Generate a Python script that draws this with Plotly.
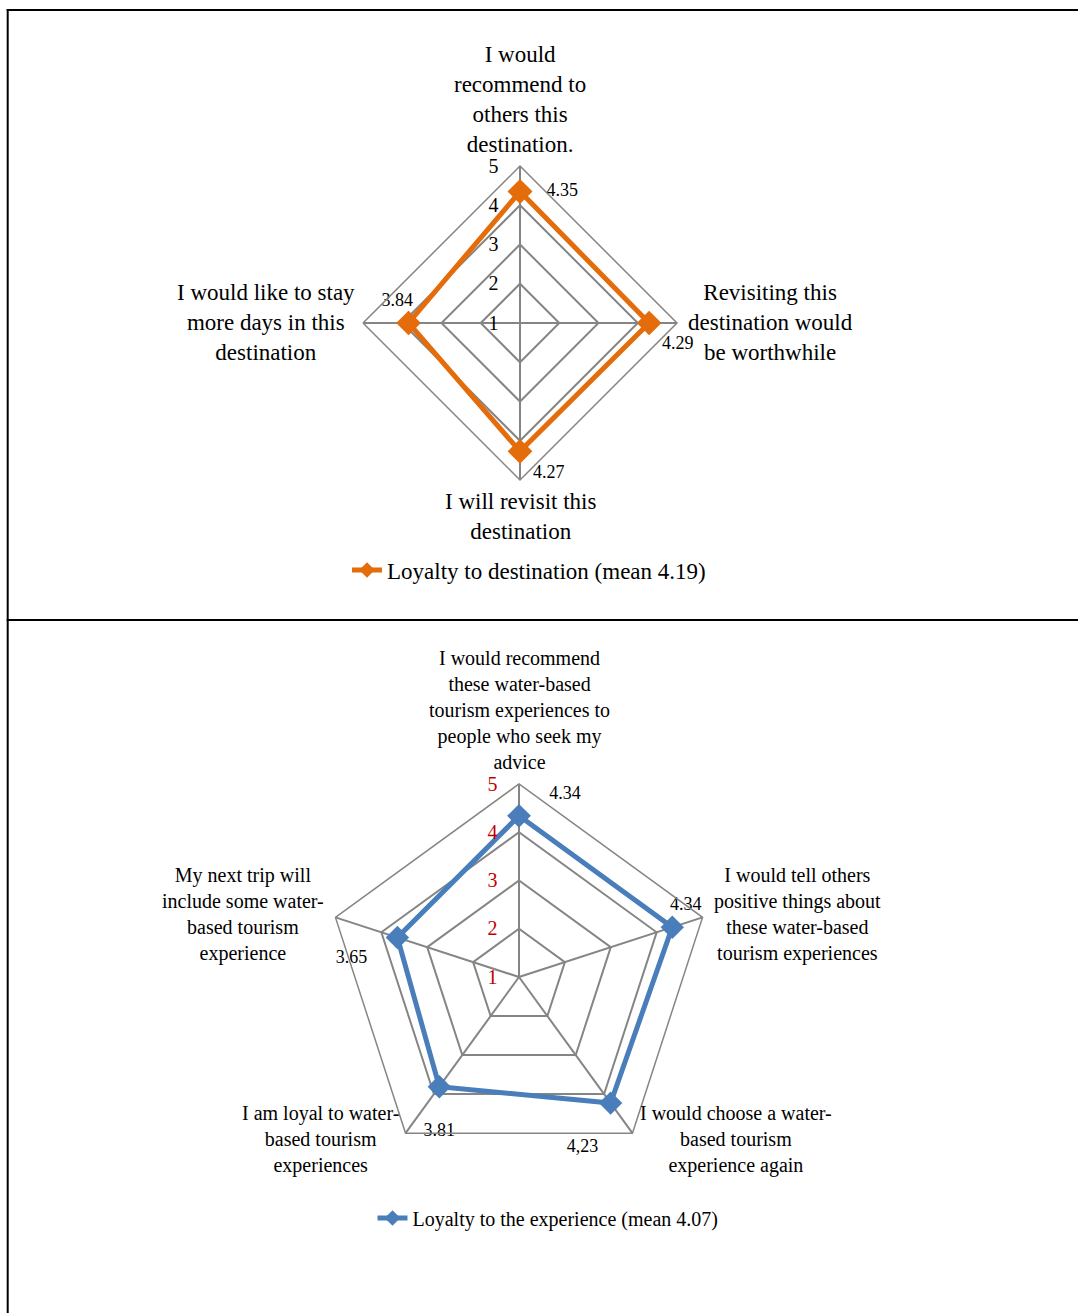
import plotly.graph_objects as go

# ---------------- data ----------------
dest_categories = [
    "I would<br>recommend to<br>others this<br>destination.",
    "Revisiting this<br>destination would<br>be worthwhile",
    "I will revisit this<br>destination",
    "I would like to stay<br>more days in this<br>destination",
]
dest_values = [4.35, 4.29, 4.27, 3.84]
dest_labels = ["4.35", "4.29", "4.27", "3.84"]
dest_series = "Loyalty to destination (mean 4.19)"

exp_categories = [
    "I would recommend<br>these water-based<br>tourism experiences to<br>people who seek my<br>advice",
    "I would tell others<br>positive things about<br>these water-based<br>tourism experiences",
    "I would choose a water-<br>based tourism<br>experience again",
    "I am loyal to water-<br>based tourism<br>experiences",
    "My next trip will<br>include some water-<br>based tourism<br>experience",
]
exp_values = [4.34, 4.34, 4.23, 3.81, 3.65]
exp_labels = ["4.34", "4.34", "4,23", "3.81", "3.65"]
exp_series = "Loyalty to the experience (mean 4.07)"

radial_ticks = [1, 2, 3, 4, 5]

# ---------------- layout helpers ----------------
W, H = 1078, 1313
FONT = "Liberation Serif"
GRID = "#858585"
ORANGE = "#E46C0A"
BLUE = "#4A7EBB"
NB = "\u00a0"


def px(x):
    return x / W


def py(y):
    return 1 - y / H


def closed(lst):
    return list(lst) + [lst[0]]


def styled(labels, pads):
    # pads: (leading nbsp count, trailing nbsp count, line break before)
    out = []
    for t, (lead, trail, br) in zip(labels, pads):
        out.append(("<br>" if br else "") + NB * lead + t + NB * trail)
    return out + [""]


dest_pads = [(3, 0, False), (0, 0, False), (0, 0, False), (0, 5, False)]
exp_pads = [(4, 0, False), (6, 0, False), (0, 0, True), (0, 0, True), (0, 4, False)]

fig = go.Figure()

fig.add_trace(go.Scatterpolar(
    r=closed(dest_values),
    theta=closed(dest_categories),
    text=styled(dest_labels, dest_pads),
    mode="lines+markers+text",
    textposition=["middle right", "bottom right", "bottom right", "top center", "top right"],
    textfont=dict(family=FONT, size=18, color="#000000"),
    line=dict(color=ORANGE, width=5),
    marker=dict(symbol="diamond", size=19, color=ORANGE),
    name=dest_series,
    subplot="polar",
    legend="legend",
    cliponaxis=False,
))

fig.add_trace(go.Scatterpolar(
    r=closed(exp_values),
    theta=closed(exp_categories),
    text=styled(exp_labels, exp_pads),
    mode="lines+markers+text",
    textposition=["top right", "top center", "bottom left", "bottom center", "bottom left", "top right"],
    textfont=dict(family=FONT, size=18, color="#000000"),
    line=dict(color=BLUE, width=5),
    marker=dict(symbol="diamond", size=18, color=BLUE),
    name=exp_series,
    subplot="polar2",
    legend="legend2",
    cliponaxis=False,
))


def polar_layout(cx, cy, R, tickcolor, categories):
    return dict(
        domain=dict(x=[px(cx - R), px(cx + R)], y=[py(cy + R), py(cy - R)]),
        gridshape="linear",
        bgcolor="rgba(0,0,0,0)",
        angularaxis=dict(
            type="category",
            categoryorder="array",
            categoryarray=categories,
            direction="clockwise",
            rotation=90,
            showticklabels=False,
            ticks="",
            showline=True,
            linecolor=GRID,
            linewidth=1.5,
            gridcolor=GRID,
            gridwidth=1.5,
        ),
        radialaxis=dict(
            range=[1, 5],
            tickvals=radial_ticks,
            ticktext=[str(t) for t in radial_ticks],
            angle=90,
            tickangle=90,
            side="counterclockwise",
            showline=False,
            ticks="outside",
            ticklen=14,
            tickcolor="rgba(0,0,0,0)",
            gridcolor=GRID,
            gridwidth=1.5,
            tickfont=dict(family=FONT, size=20, color=tickcolor),
        ),
    )


annotations = []
dest_pos = [(520, 99), (770, 322), (520, 516), (266, 322)]
for cat, (x, y) in zip(dest_categories, dest_pos):
    annotations.append(dict(x=px(x), y=py(y), xref="paper", yref="paper", text=cat,
                            showarrow=False, xanchor="center", yanchor="middle", align="center",
                            font=dict(family=FONT, size=23, color="#000000")))
exp_pos = [(519, 710), (797, 914), (736, 1139), (320, 1139), (243, 914)]
for cat, (x, y) in zip(exp_categories, exp_pos):
    annotations.append(dict(x=px(x), y=py(y), xref="paper", yref="paper", text=cat,
                            showarrow=False, xanchor="center", yanchor="middle", align="center",
                            font=dict(family=FONT, size=20, color="#000000")))

shapes = [
    dict(type="line", xref="paper", yref="paper", x0=px(6.7), x1=1, y0=py(10), y1=py(10),
         line=dict(color="black", width=2)),
    dict(type="line", xref="paper", yref="paper", x0=px(7.7), x1=px(7.7), y0=py(9), y1=0,
         line=dict(color="black", width=2)),
    dict(type="line", xref="paper", yref="paper", x0=px(6.7), x1=1, y0=py(620), y1=py(620),
         line=dict(color="black", width=2)),
]

fig.update_layout(
    width=W, height=H,
    margin=dict(l=0, r=0, t=0, b=0),
    paper_bgcolor="white",
    plot_bgcolor="white",
    font=dict(family=FONT, color="#000000"),
    polar=polar_layout(520, 323, 157, "#000000", dest_categories),
    polar2=polar_layout(519, 977, 193, "#C00000", exp_categories),
    legend=dict(x=px(529), y=py(570), xanchor="center", yanchor="middle", orientation="h",
                itemsizing="constant",
                font=dict(family=FONT, size=23, color="#000000"), bgcolor="rgba(0,0,0,0)"),
    legend2=dict(x=px(548), y=py(1218), xanchor="center", yanchor="middle", orientation="h",
                 itemsizing="constant",
                 font=dict(family=FONT, size=20, color="#000000"), bgcolor="rgba(0,0,0,0)"),
    annotations=annotations,
    shapes=shapes,
    showlegend=True,
)

fig.write_html("out.html", config={"displayModeBar": False},
               post_script="document.body.style.margin='0px';")
